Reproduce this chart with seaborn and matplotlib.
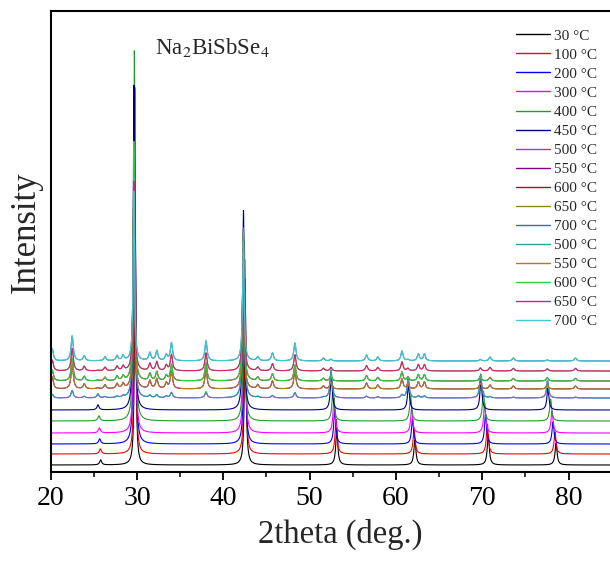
import numpy as np
import pandas as pd
import matplotlib
matplotlib.use('Agg')
import matplotlib.pyplot as plt
import seaborn as sns
from matplotlib.ticker import MultipleLocator

# ---------------- data ----------------
labels = ['30 °C', '100 °C', '200 °C', '300 °C', '400 °C', '450 °C', '500 °C', '550 °C',
          '600 °C', '650 °C', '700 °C', '500 °C', '550 °C', '600 °C', '650 °C', '700 °C']
colors = ['#000000', '#FF0000', '#0000FF', '#FF00FF', '#1E9E2A', '#000080', '#9B30FF', '#800080',
          '#A01030', '#8A8A20', '#3A6EA5', '#2E9E9E', '#B07A2A', '#2ECC40', '#C8287A', '#40C8D0']
# vertical offset of each pattern (stacking)
offsets = [7, 18, 28, 39, 51, 62, 74, 83, 91, 101, 111, 74, 83, 91, 101, 111]
# relative lattice expansion (peak shift to lower angle)
strain = [0.0, 0.0015, 0.0045, 0.006, 0.008, 0.012, 0.0125, 0.013, 0.013, 0.013, 0.013,
          0.0125, 0.013, 0.013, 0.013, 0.013]

# low-temperature phase reflections
posA = [25.8, 29.8, 42.55, 53.15, 62.2, 70.7, 78.55]
hA_minor = [5, 0, 0, 35, 25, 30, 22]
h29 = [230, 260, 358, 300, 371, 325, 250, 210, 240, 190, 170, 250, 210, 240, 190, 170]
h42 = [160, 175, 185, 190, 180, 200, 170, 140, 150, 130, 120, 170, 140, 150, 130, 120]
fracA = [1, 1, 1, 1, 1, 1, 0.8, 0.2, 0.15, 0.1, 0.05, 0.8, 0.2, 0.15, 0.1, 0.05]

# high-temperature phase reflections
posB = [20.2, 22.5, 23.9, 26.3, 27.7, 28.4, 31.5, 32.3, 33.4, 34.0, 38.0, 44.0, 45.7,
        48.3, 51.6, 56.6, 57.9, 60.7, 62.6, 63.3, 70.9, 73.6, 80.8]
hB = [12, 25, 5, 4, 5, 5, 8, 10, 6, 18, 20, 4, 8, 18, 3, 6, 4, 10, 7, 7, 4, 3, 3]
fracB = [0, 0, 0, 0, 0, 0, 0.3, 1.0, 0.9, 0.9, 1.0, 0.3, 1.0, 0.9, 0.9, 1.0]

title_text = 'Na$_2$BiSbSe$_4$'
x_ticks = [20, 30, 40, 50, 60, 70, 80]

# ---------------- build patterns ----------------
two_theta = np.arange(20.0, 87.0, 0.02)


def lor(x, p, h, w):
    return h / (1.0 + ((x - p) / (w / 2.0)) ** 2)


frames = []
for i, lab in enumerate(labels):
    y = np.full_like(two_theta, float(offsets[i]))
    s = 1.0 - strain[i]
    s_low = 1.0 - strain[i] * 0.4
    for p, h in zip(posA, hA_minor):
        if h:
            y += lor(two_theta, p * s, h * fracA[i], 0.28)
    y += lor(two_theta, posA[1] * s_low, h29[i], 0.2)
    y += lor(two_theta, posA[2] * s_low, h42[i], 0.22)
    for p, h in zip(posB, hB):
        y += lor(two_theta, p, h * fracB[i], 0.3)
    frames.append(pd.DataFrame({'x': two_theta, 'y': y, 'series': i}))

# ---------------- plot ----------------
sns.set_style('ticks')
plt.rcParams['font.family'] = ['Liberation Serif', 'DejaVu Serif']
plt.rcParams['mathtext.fontset'] = 'stix'

fig = plt.figure(figsize=(6.10, 5.62), dpi=100)
ax = fig.add_axes([50.6 / 610, (562 - 472) / 562, (629 - 50.6) / 610, 461 / 562])

for i, df in enumerate(frames):
    sns.lineplot(data=df, x='x', y='y', color=colors[i], lw=0.8, label=labels[i],
                 ax=ax, estimator=None, sort=False)

ax.set_xlim(20, 87)
ax.set_ylim(0, 461)
ax.set_xticks(x_ticks)
ax.xaxis.set_minor_locator(MultipleLocator(5))
ax.set_yticks([])
for sp in ax.spines.values():
    sp.set_linewidth(1.5)
    sp.set_color('black')
ax.tick_params(axis='x', which='major', direction='out', length=6, width=1.3,
               labelsize=20, pad=4, colors='black')
ax.tick_params(axis='x', which='minor', direction='out', length=3.5, width=1.3)
ax.set_xlabel('2theta (deg.)', fontsize=23.5, labelpad=6)
ax.set_ylabel('Intensity', fontsize=25)
ax.yaxis.set_label_coords(-0.013, 0.52)

ax.text(0.18, 0.92, title_text, transform=ax.transAxes, fontsize=16.5,
        va='center', ha='left')

leg = ax.legend(loc='upper left', bbox_to_anchor=(516 / 610, 1 - 29 / 562),
                bbox_transform=fig.transFigure, frameon=False, fontsize=11,
                handlelength=2.2, handletextpad=0.3, labelspacing=0.35,
                borderpad=0, borderaxespad=0)
for line in leg.get_lines():
    line.set_linewidth(1.0)

fig.savefig('out.png', dpi=100)
